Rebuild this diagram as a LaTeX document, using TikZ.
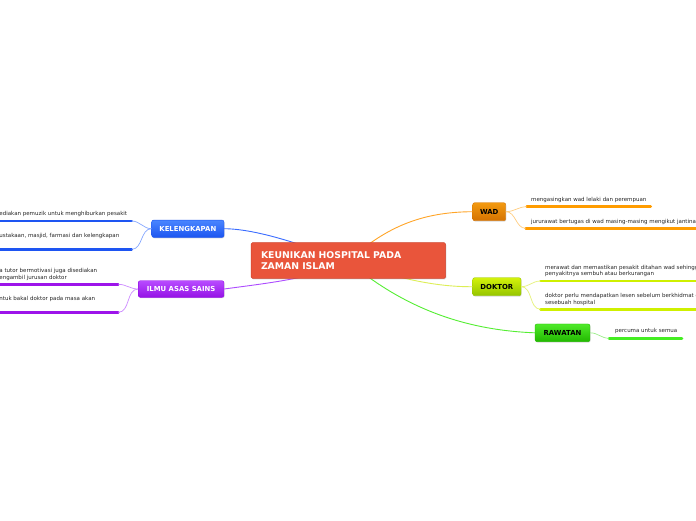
\documentclass[tikz,border=0pt]{standalone}
\usepackage{fontspec}
\setmainfont{DejaVu Sans}
\usetikzlibrary{shadows}
\definecolor{cmain}{HTML}{E9553B}
\definecolor{cmainb}{HTML}{D0462F}
\definecolor{bluetop}{HTML}{4A86FF}
\definecolor{bluebot}{HTML}{1C55F0}
\definecolor{purtop}{HTML}{B84BFF}
\definecolor{purbot}{HTML}{9512E6}
\definecolor{oratop}{HTML}{F39A10}
\definecolor{orabot}{HTML}{D47200}
\definecolor{ygtop}{HTML}{D4F20A}
\definecolor{ygbot}{HTML}{94C400}
\definecolor{grtop}{HTML}{4FEA2A}
\definecolor{grbot}{HTML}{22B800}
\definecolor{lblue}{HTML}{1E55F2}
\definecolor{lpur}{HTML}{9D14EA}
\definecolor{lora}{HTML}{FF9C00}
\definecolor{lyg}{HTML}{CFF000}
\definecolor{lgr}{HTML}{44EE22}
\definecolor{cblue}{HTML}{3A6CFF}
\definecolor{cpur}{HTML}{AD4CFF}
\definecolor{cora}{HTML}{FFA528}
\definecolor{cyg}{HTML}{DDEE55}
\definecolor{cgr}{HTML}{55EE33}
\definecolor{kblue}{HTML}{86A8FF}
\definecolor{kpur}{HTML}{CE8CFF}
\definecolor{kora}{HTML}{FFCD80}
\definecolor{kyg}{HTML}{E6F27A}
\definecolor{kgr}{HTML}{9EEE8C}
\tikzset{
  branchbox/.style={rounded corners=2pt, inner sep=0pt,
    font=\fontsize{6.9}{7.5}\selectfont\bfseries,
    drop shadow={shadow xshift=0.6pt, shadow yshift=-0.9pt, opacity=0.3}},
  leaftext/.style={inner sep=0pt, anchor=west, align=left,
    font=\fontsize{5.5}{6.6}\selectfont, text=black!85},
  leafline/.style={line width=2.6pt, line cap=round},
  leafconn/.style={line width=0.7pt},
  mainconn/.style={line width=0.9pt}
}
\begin{document}
\begin{tikzpicture}[x=1pt,y=-1pt]
\useasboundingbox (0,0) rectangle (696,520);
\fill[white] (0,0) rectangle (696,520);
\clip (0,0) rectangle (696,520);

% branch nodes
\node[branchbox, top color=bluetop, bottom color=bluebot, draw=bluebot,
  text=white, minimum width=72.3pt, minimum height=17.3pt] (kel) at (187.85,228.7) {KELENGKAPAN};
\node[branchbox, top color=purtop, bottom color=purbot, draw=purbot,
  text=white, minimum width=85.7pt, minimum height=16.6pt] (ilmu) at (181.15,289) {ILMU ASAS SAINS};
\node[branchbox, top color=oratop, bottom color=orabot, draw=orabot,
  text=black, minimum width=33pt, minimum height=18pt] (wad) at (489.2,211.7) {WAD};
\node[branchbox, top color=ygtop, bottom color=ygbot, draw=ygbot,
  text=black, minimum width=48.3pt, minimum height=18pt] (dok) at (496.85,286.7) {DOKTOR};
\node[branchbox, top color=grtop, bottom color=grbot, draw=grbot,
  text=black, minimum width=55pt, minimum height=17.7pt] (raw) at (562.5,332.8) {RAWATAN};

% centre-to-branch connectors
\coordinate (cc) at (348,261);
\draw[mainconn, cblue] (cc) .. controls (315,250) and (262,229) .. (kel.east);
\draw[mainconn, cpur] (cc) .. controls (320,278) and (260,284) .. (ilmu.east);
\draw[mainconn, cora] (cc) .. controls (385,228) and (420,212) .. (wad.west);
\draw[mainconn, cyg] (cc) .. controls (400,280) and (440,287) .. (dok.west);
\draw[mainconn, cgr] (cc) .. controls (400,305) and (460,330) .. (raw.west);

% central node
\node[rounded corners=1.5pt, fill=cmain, draw=cmainb, line width=0.5pt,
  inner xsep=10pt, inner ysep=0pt, text width=174.7pt, align=left,
  minimum height=35.6pt, text=white,
  font=\fontsize{9.3}{10.5}\selectfont\bfseries,
  drop shadow={shadow xshift=0.6pt, shadow yshift=-1pt, opacity=0.3}]
  (main) at (348.35,260.5) {KEUNIKAN HOSPITAL PADA\\ZAMAN ISLAM};

% KELENGKAPAN leaves
\coordinate (k1s) at (-5,221); \coordinate (k1e) at (131.7,221);
\coordinate (k2s) at (-5,249.3); \coordinate (k2e) at (131.7,249.3);
\draw[leafline, lblue] (k1s) -- (k1e);
\draw[leafline, lblue] (k2s) -- (k2e);
\draw[leafconn, kblue] (kel.west) to[out=180,in=0] (k1e);
\draw[leafconn, kblue] (kel.west) to[out=180,in=0] (k2e);
\node[leaftext] (k1t) at (-0.8,214.3) {ediakan pemuzik untuk menghiburkan pesakit};
\node[leaftext] (k2t) at (-0.8,235.7) {ustakaan, masjid, farmasi dan kelengkapan};

% ILMU leaves
\coordinate (i1s) at (-5,284.3); \coordinate (i1e) at (118.3,284.3);
\coordinate (i2s) at (-5,312.3); \coordinate (i2e) at (118.3,312.3);
\draw[leafline, lpur] (i1s) -- (i1e);
\draw[leafline, lpur] (i2s) -- (i2e);
\draw[leafconn, kpur] (ilmu.west) to[out=180,in=0] (i1e);
\draw[leafconn, kpur] (ilmu.west) to[out=180,in=0] (i2e);
\node[leaftext] (i1t) at (-0.8,274.4) {a tutor bermotivasi juga disediakan\\engambil jurusan doktor};
\node[leaftext] (i2t) at (-0.8,299) {ntuk bakal doktor pada masa akan};

% WAD leaves
\coordinate (w1s) at (526.7,206.7); \coordinate (w1e) at (650.7,206.7);
\coordinate (w2s) at (525.7,228.3); \coordinate (w2e) at (705,228.3);
\draw[leafline, lora] (w1s) -- (w1e);
\draw[leafline, lora] (w2s) -- (w2e);
\draw[leafconn, kora] (wad.east) to[out=0,in=180] (w1s);
\draw[leafconn, kora] (wad.east) to[out=0,in=180] (w2s);
\node[leaftext] (w1t) at (531,200) {mengasingkan wad lelaki dan perempuan};
\node[leaftext] (w2t) at (531,221.7) {jururawat bertugas di wad masing-masing mengikut jantina};

% DOKTOR leaves
\coordinate (d1s) at (540.5,281); \coordinate (d1e) at (705,281);
\coordinate (d2s) at (540.5,309.2); \coordinate (d2e) at (705,309.2);
\draw[leafline, lyg] (d1s) -- (d1e);
\draw[leafline, lyg] (d2s) -- (d2e);
\draw[leafconn, kyg] (dok.east) to[out=0,in=180] (d1s);
\draw[leafconn, kyg] (dok.east) to[out=0,in=180] (d2s);
\node[leaftext] (d1t) at (545,270.8) {merawat dan memastikan pesakit ditahan wad sehingga\\penyakitnya sembuh atau berkurangan};
\node[leaftext] (d2t) at (545,299.7) {doktor perlu mendapatkan lesen sebelum berkhidmat di\\sesebuah hospital};

% RAWATAN leaf
\coordinate (r1s) at (609,338.3); \coordinate (r1e) at (682,338.3);
\draw[leafline, lgr] (r1s) -- (r1e);
\draw[leafconn, kgr] (raw.east) to[out=0,in=180] (r1s);
\node[leaftext] (r1t) at (615,331) {percuma untuk semua};
\end{tikzpicture}
\end{document}
